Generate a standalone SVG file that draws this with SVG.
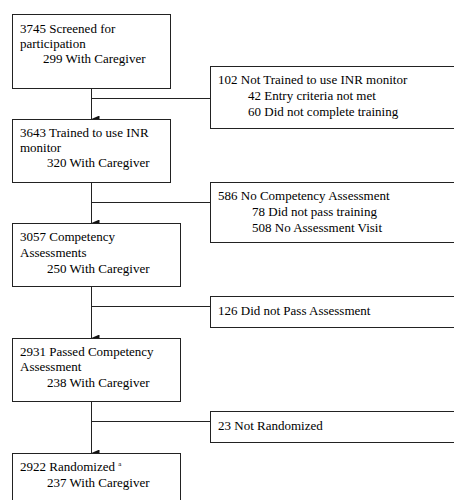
<svg xmlns="http://www.w3.org/2000/svg" width="454" height="500" viewBox="0 0 454 500">
<defs>
<style>
.box{fill:#fff;stroke:#222;stroke-width:1}
.ln{fill:none;stroke:#222;stroke-width:1}
text{font-family:"Liberation Serif","Times New Roman",serif;font-size:13px;fill:#000}
.sup{font-size:7px}
</style>
<marker id="arr" markerWidth="7" markerHeight="8" refX="3.5" refY="8" orient="auto-start-reverse" markerUnits="userSpaceOnUse" viewBox="0 0 7 8">
<path d="M0,0 L7,0 L3.5,8 Z" fill="#111"/>
</marker>
</defs>
<rect width="454" height="500" fill="#fff"/>
<g id="connectors">
<line class="ln" x1="91.5" y1="88" x2="91.5" y2="119" marker-end="url(#arr)"/>
<line class="ln" x1="91.5" y1="98.5" x2="210" y2="98.5"/>
<line class="ln" x1="91.5" y1="183" x2="91.5" y2="223" marker-end="url(#arr)"/>
<line class="ln" x1="91.5" y1="202.5" x2="210" y2="202.5"/>
<line class="ln" x1="91.5" y1="286" x2="91.5" y2="338" marker-end="url(#arr)"/>
<line class="ln" x1="91.5" y1="306.5" x2="210" y2="306.5"/>
<line class="ln" x1="91.5" y1="401" x2="91.5" y2="453" marker-end="url(#arr)"/>
<line class="ln" x1="91.5" y1="421.5" x2="210" y2="421.5"/>
</g>
<g id="n1">
<rect class="box" x="12.5" y="14.5" width="158" height="74"/>
<text x="20" y="33">3745 Screened for</text>
<text x="20" y="48">participation</text>
<text x="43" y="63">299 With Caregiver</text>
</g>
<g id="e1">
<rect class="box" x="210.5" y="66.5" width="260" height="62"/>
<text x="218" y="84">102 Not Trained to use INR monitor</text>
<text x="248" y="100">42  Entry criteria not met</text>
<text x="248" y="116">60  Did not complete training</text>
</g>
<g id="n2">
<rect class="box" x="12.5" y="119.5" width="158" height="63"/>
<text x="20" y="137">3643 Trained to use INR</text>
<text x="20" y="152">monitor</text>
<text x="47" y="167">320 With Caregiver</text>
</g>
<g id="e2">
<rect class="box" x="210.5" y="182.5" width="260" height="60"/>
<text x="218" y="200">586 No Competency Assessment</text>
<text x="252" y="216">78 Did not pass training</text>
<text x="252" y="232">508 No Assessment Visit</text>
</g>
<g id="n3">
<rect class="box" x="12.5" y="223.5" width="168" height="63"/>
<text x="20" y="241">3057 Competency</text>
<text x="20" y="257">Assessments</text>
<text x="47" y="273">250 With Caregiver</text>
</g>
<g id="e3">
<rect class="box" x="210.5" y="296.5" width="260" height="31"/>
<text x="218" y="315">126 Did not Pass Assessment</text>
</g>
<g id="n4">
<rect class="box" x="12.5" y="338.5" width="168" height="63"/>
<text x="20" y="356">2931 Passed Competency</text>
<text x="20" y="371">Assessment</text>
<text x="47" y="387">238 With Caregiver</text>
</g>
<g id="e4">
<rect class="box" x="210.5" y="411.5" width="260" height="31"/>
<text x="218" y="430">23 Not Randomized</text>
</g>
<g id="n5">
<rect class="box" x="12.5" y="453.5" width="168" height="60"/>
<text x="20" y="471">2922 Randomized <tspan class="sup" dy="-5">a</tspan></text>
<text x="47" y="487">237 With Caregiver</text>
</g>
</svg>
